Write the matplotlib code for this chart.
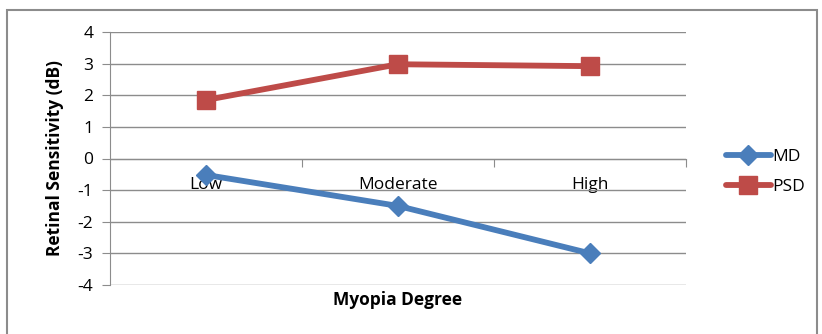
import matplotlib
matplotlib.use("Agg")
import matplotlib.pyplot as plt
from matplotlib.patches import Rectangle
from matplotlib.ticker import FixedLocator

categories = ["Low", "Moderate", "High"]
md_values = [-0.52, -1.5, -3.0]
psd_values = [1.85, 2.98, 2.92]
y_ticks = [-4, -3, -2, -1, 0, 1, 2, 3, 4]

plt.rcParams['font.family'] = ['Open Sans', 'DejaVu Sans']
plt.rcParams['axes.unicode_minus'] = False

fig = plt.figure(figsize=(8.22, 3.34), dpi=100)
fig.patches.append(Rectangle((7/822, -0.05), 810/822, 1.05 - 10/334,
                             transform=fig.transFigure, fill=False,
                             edgecolor='#8c8c8c', linewidth=1.5))
ax = fig.add_axes([110/822, 49/334, 576/822, 253/334])

x = list(range(len(categories)))
ax.plot(x, md_values, color='#4a7ebb', linewidth=4.2, marker='D',
        markersize=10, label='MD', solid_capstyle='round')
ax.plot(x, psd_values, color='#be4b48', linewidth=4.2, marker='s',
        markersize=13, label='PSD', solid_capstyle='round')

ax.set_xlim(-0.5, len(categories) - 0.5)
ax.set_ylim(-4, 4)
ax.set_yticks(y_ticks)
ax.yaxis.grid(True, color='#8c8c8c', linewidth=1)
ax.set_axisbelow(True)

for s in ['top', 'right']:
    ax.spines[s].set_visible(False)
ax.spines['left'].set_color('#8c8c8c')
ax.spines['bottom'].set_position(('data', 0))
ax.spines['bottom'].set_color('#8c8c8c')

ax.xaxis.set_major_locator(FixedLocator([0.5, 1.5, 2.5]))
ax.xaxis.set_minor_locator(FixedLocator(x))
ax.set_xticklabels([], minor=False)
ax.set_xticklabels(categories, minor=True)
ax.tick_params(axis='x', which='major', length=6, color='#8c8c8c', direction='out')
ax.tick_params(axis='x', which='minor', length=0, pad=13, labelsize=12.5)
ax.tick_params(axis='y', length=6, color='#8c8c8c', labelsize=12.5, pad=6)

ax.set_ylabel('Retinal Sensitivity (dB)', fontsize=12.5, fontweight='bold', labelpad=10)
fig.text(398/822, 1 - 300/334, 'Myopia Degree', fontsize=12.5, fontweight='bold',
         ha='center', va='center')

leg = fig.legend(loc='center left', bbox_to_anchor=(710/822, 1 - 172/334),
                 frameon=False, fontsize=12.5, handlelength=2.6,
                 labelspacing=0.8, handletextpad=0.1)

fig.savefig('out.png', dpi=100)
